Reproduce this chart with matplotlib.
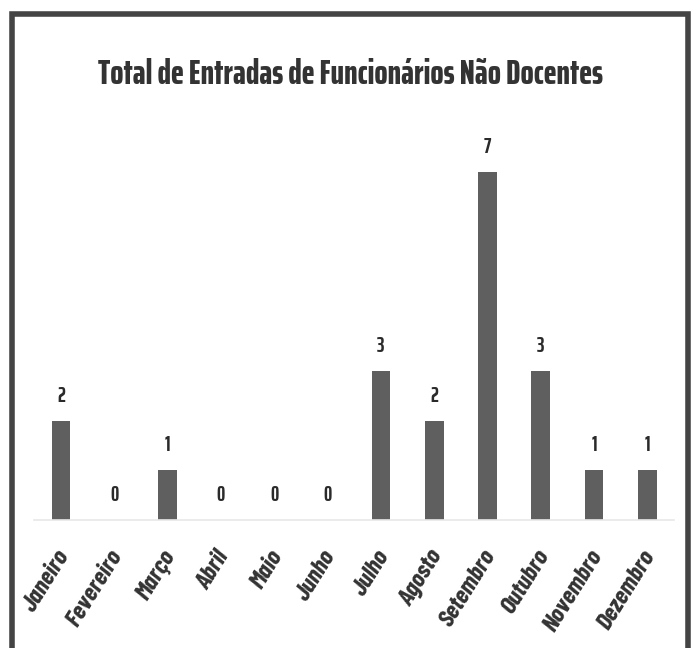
import matplotlib.pyplot as plt
from matplotlib.patches import Rectangle
from matplotlib.transforms import ScaledTranslation

# Dados
meses = ['Janeiro', 'Fevereiro', 'Março', 'Abril', 'Maio', 'Junho',
         'Julho', 'Agosto', 'Setembro', 'Outubro', 'Novembro', 'Dezembro']
entradas = [2, 0, 1, 0, 0, 0, 3, 2, 7, 3, 1, 1]
titulo = 'Total de Entradas de Funcionários Não Docentes'

fonte = ['Barlow Condensed', 'Roboto Condensed', 'DejaVu Sans']
fonte_titulo = ['Saira ExtraCondensed', 'Barlow Condensed', 'DejaVu Sans']

fig = plt.figure(figsize=(7, 6.48), dpi=100)
ax = fig.add_axes([0.049, 0.1975, 0.914, 0.6136])


def ajustar(txt, largura_px):
    # escala o tamanho da fonte para o texto ocupar a largura pedida
    fig.canvas.draw()
    r = fig.canvas.get_renderer()
    w = txt.get_window_extent(renderer=r).width
    txt.set_fontsize(txt.get_fontsize() * largura_px / w)


x = range(len(meses))
ax.bar(x, entradas, width=0.35, color='#5f5f5f')

# Rótulos acima das barras
for xi, v in zip(x, entradas):
    ax.text(xi, v + 0.3, str(v), ha='center', va='bottom',
            fontsize=15, fontweight='bold', family=fonte_titulo, color='#2a2a2a')

ax.set_xlim(-0.5, len(meses) - 0.5)
ax.set_ylim(0, 8)
ax.set_yticks([])
ax.set_xticks(list(x))
for lado in ['top', 'right', 'left']:
    ax.spines[lado].set_visible(False)
ax.spines['bottom'].set_color('#e8e8e8')
ax.spines['bottom'].set_linewidth(1.2)

# tamanho dos meses: "Fevereiro" com ~85 px de comprimento
teste = fig.text(0, 0, 'Fevereiro', fontsize=12, fontweight='bold',
                 style='italic', family=fonte)
ajustar(teste, 85)
tam_meses = teste.get_fontsize()
teste.remove()

ax.set_xticklabels(meses, rotation=58, ha='right', rotation_mode='anchor',
                   fontsize=tam_meses, fontweight='bold', style='italic',
                   family=fonte, color='#333333')
ax.tick_params(axis='x', length=0, pad=19)
desloc = ScaledTranslation(-6 / 100, 0, fig.dpi_scale_trans)
for lbl in ax.get_xticklabels():
    lbl.set_transform(lbl.get_transform() + desloc)

t = fig.text(0.5, 0.885, titulo, ha='center', va='center', fontsize=25,
             fontweight=800, family=fonte_titulo, color='#333333')
ajustar(t, 506)

# Moldura
fig.patches.append(Rectangle((12 / 700, -0.05), 676 / 700, 1.05 - 14 / 648,
                             transform=fig.transFigure, fill=False,
                             edgecolor='#444444', linewidth=4))

plt.savefig('out.png', dpi=100)
